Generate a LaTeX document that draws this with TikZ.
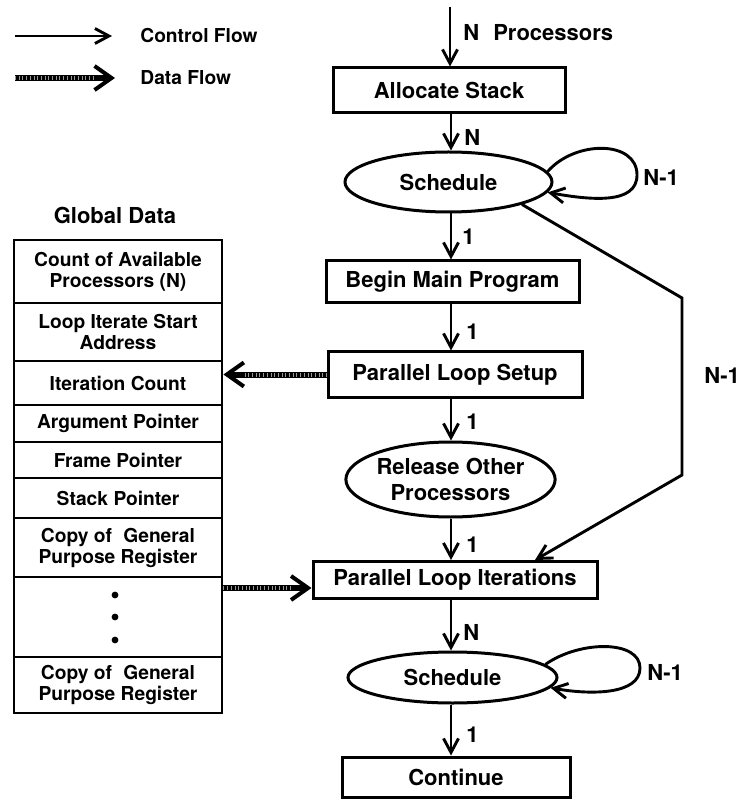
\documentclass[tikz,border=0pt]{standalone}
\usepackage{fontspec}
\setmainfont{TeX Gyre Heros}
\usetikzlibrary{arrows.meta,calc,shapes.geometric}
\begin{document}
\begin{tikzpicture}[x=0.5pt,y=-0.5pt,
  every node/.style={font=\bfseries\fontsize{11}{13}\selectfont, inner sep=0pt},
  box/.style={draw, line width=1.5pt, rectangle},
  oval/.style={draw, line width=1.5pt, ellipse},
  cell/.style={draw, line width=1.4pt, rectangle, minimum width=104pt, align=center, font=\bfseries\fontsize{9.6}{10.5}\selectfont},
  ctrl/.style={line width=1.45pt, -{Straight Barb[length=7pt,width=7.5pt,line width=1.45pt]}},
  data/.style={line width=3pt, -{Straight Barb[length=8.5pt,width=12pt,line width=2pt]},
    postaction={draw=white, opacity=0.6, line width=2pt, dash pattern=on 0.25pt off 1.6pt, shorten >=10pt, -}},
  lbl/.style={anchor=west},
  leg/.style={anchor=west, font=\bfseries\fontsize{9.6}{11}\selectfont},
]
\useasboundingbox (0,0) rectangle (740,801);

% legend
\coordinate (lc1) at (15,36);
\coordinate (lc2) at (112,36);
\draw[ctrl] (lc1) -- (lc2);
\node[leg] (lgc) at (140,36) {Control Flow};
\coordinate (ld1) at (15,78);
\coordinate (ld2) at (115,78);
\draw[data] (ld1) -- (ld2);
\node[leg] (lgd) at (140,78) {Data Flow};

% main flow
\node[box, minimum width=116pt, minimum height=22.5pt] (alloc) at (449,90.5) {Allocate Stack};
\node[oval, minimum width=103.5pt, minimum height=30pt] (sched1) at (448.5,182) {Schedule};
\node[box, minimum width=126.5pt, minimum height=21pt] (begin) at (452.5,282) {Begin Main Program};
\node[box, minimum width=127pt, minimum height=22.5pt] (setup) at (455,374.5) {Parallel Loop Setup};
\node[oval, minimum width=104.5pt, minimum height=37.5pt, align=center] (release) at (450.5,479.5) {Release Other\\Processors};
\node[box, minimum width=142pt, minimum height=18.5pt] (iter) at (455,580) {Parallel Loop Iterations};
\node[oval, minimum width=104.5pt, minimum height=25.5pt] (sched2) at (452.5,677.5) {Schedule};
\node[box, minimum width=114pt, minimum height=20pt] (cont) at (456,777) {Continue};

\coordinate (ax) at (451,0);
\coordinate (topin) at (450,7);
\draw[ctrl] (topin) -- (alloc.north -| topin);
\draw[ctrl] (alloc.south -| ax) -- (sched1.north -| ax);
\draw[ctrl] (sched1.south -| ax) -- (begin.north -| ax);
\draw[ctrl] (begin.south -| ax) -- (setup.north -| ax);
\draw[ctrl] (setup.south -| ax) -- (release.north -| ax);
\draw[ctrl] (release.south -| ax) -- (iter.north -| ax);
\draw[ctrl] (iter.south -| ax) -- (sched2.north -| ax);
\draw[ctrl] (sched2.south -| ax) -- (cont.north -| ax);

% self loops
\draw[ctrl] (sched1.6) .. controls (575,140) and (637,140) .. (637,175)
  .. controls (637,205) and (590,200) .. (sched1.-6);
\draw[ctrl] (sched2.8) .. controls (580,640) and (640,640) .. (640,668)
  .. controls (640,695) and (590,695) .. (sched2.-6);

% bypass
\coordinate (k1) at (682,298);
\coordinate (k2) at (682,475);
\draw[ctrl, line join=miter] (sched1.-17) -- (k1) -- (k2) -- ($(iter.north)+(80,0)$);

% labels
\node[lbl] (lnp) at (463,33) {N\hspace{7pt}Processors};
\node[lbl] (la) at (464,137) {N};
\node[lbl] (lb) at (462,237) {1};
\node[lbl] (lc) at (466,332) {1};
\node[lbl] (ld) at (466,422) {1};
\node[lbl] (le) at (466,545) {1};
\node[lbl] (lf) at (463,632) {N};
\node[lbl] (lg) at (466,735) {1};
\node[lbl] (lh) at (643,177) {N-1};
\node[lbl] (li) at (704,375) {N-1};
\node[lbl] (lj) at (647,672) {N-1};

% global data table
\node (gtitle) at (115,215) {Global Data};
\node[cell, minimum height=31.5pt] (r1) at (118,271.5) {Count of Available\\Processors (N)};
\node[cell, minimum height=29pt] (r2) at (118,332) {Loop Iterate Start\\Address};
\node[cell, minimum height=22pt] (r3) at (118,383) {Iteration Count};
\node[cell, minimum height=18.5pt] (r4) at (118,423.5) {Argument Pointer};
\node[cell, minimum height=18pt] (r5) at (118,460) {Frame Pointer};
\node[cell, minimum height=20pt] (r6) at (118,498) {Stack Pointer};
\node[cell, minimum height=29.5pt] (r7) at (118,547.5) {Copy of\hspace{3pt} General\\Purpose Register};
\node[cell, minimum height=40pt] (r8) at (118,617) {};
\node[cell, minimum height=28pt] (r9) at (118,685) {Copy of\hspace{3pt} General\\Purpose Register};
\fill (115,595) circle (1.7pt);
\fill (115,617) circle (1.7pt);
\fill (115,640) circle (1.7pt);

% data flows
\draw[data] (setup.west) -- (setup.west -| r3.east);
\coordinate (d2) at (0,588);
\draw[data] (r8.east |- d2) -- (iter.west |- d2);
\end{tikzpicture}
\end{document}
